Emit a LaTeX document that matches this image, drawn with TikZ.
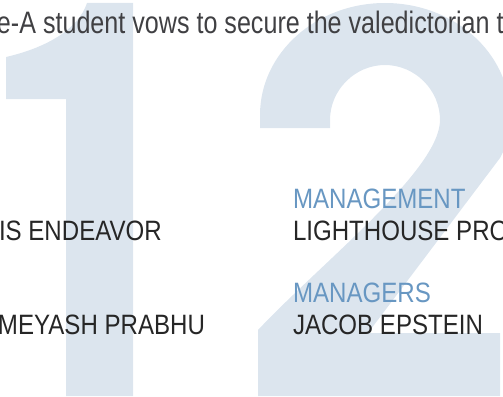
\documentclass[tikz,border=0pt]{standalone}
\usepackage{fontspec}
\newfontfamily\leadfont[FakeStretch=0.81]{Liberation Sans}
\newfontfamily\namefont[FakeStretch=0.86]{Liberation Sans}
\usetikzlibrary{positioning}
\pgfdeclarelayer{background}
\pgfsetlayers{background,main}
\definecolor{digitfill}{RGB}{220,229,238}
\definecolor{leadgray}{RGB}{64,64,67}
\definecolor{rolecol}{RGB}{104,151,194}
\definecolor{namecol}{RGB}{38,38,38}

\begin{document}
\begin{tikzpicture}[x=1pt, y=-1pt,
							every node/.style={inner sep=0pt, outer sep=0pt, anchor=base west},
							lead/.style={font=\leadfont\fontsize{31}{31}\selectfont, text=leadgray},
							role/.style={font=\namefont\fontsize{28}{28}\selectfont, text=rolecol},
							person/.style={font=\namefont\fontsize{28}{28}\selectfont, text=namecol},
							digit/.style={fill=digitfill, draw=none}]
						\useasboundingbox (0,0) rectangle (503,396);
						
						\node[lead] (headline) at (-3,34) {e-A student vows to secure the valedictorian t};
						
						\node[person] (endeavor) at (-1,240) {IS ENDEAVOR};
						\node[person] (prabhu) at (-2,334) {MEYASH PRABHU};
						
						\node[role] (management) at (293,208) {MANAGEMENT};
						\node[person] (lighthouse) at (293,240) {LIGHTHOUSE PRO};
						\node[role] (managers) at (293,302) {MANAGERS};
						\node[person] (epstein) at (293,334) {JACOB EPSTEIN};
						
						\begin{pgfonlayer}{background}
							\clip (0,0) rectangle (503,396);
							\fill[digit] (66,396) -- (66,99) -- (6,99) -- (6,57)
								.. controls (45,48) and (78,30) .. (87,3) -- (133,3) -- (133,396) -- cycle;
							\fill[digit] (258,396) -- (258,330)
								.. controls (322,262) and (440,170) .. (440,120)
								.. controls (440,90) and (415,65) .. (385,65)
								.. controls (355,65) and (330,90) .. (330,120) -- (330,128) -- (260,128) -- (260,115)
								.. controls (260,53) and (316,3) .. (385,3)
								.. controls (454,3) and (510,53) .. (510,115)
								.. controls (510,135) and (507,145) .. (500,158)
								-- (368,333) -- (500,333) -- (500,396) -- cycle;
						\end{pgfonlayer}
					\end{tikzpicture}
\end{document}
